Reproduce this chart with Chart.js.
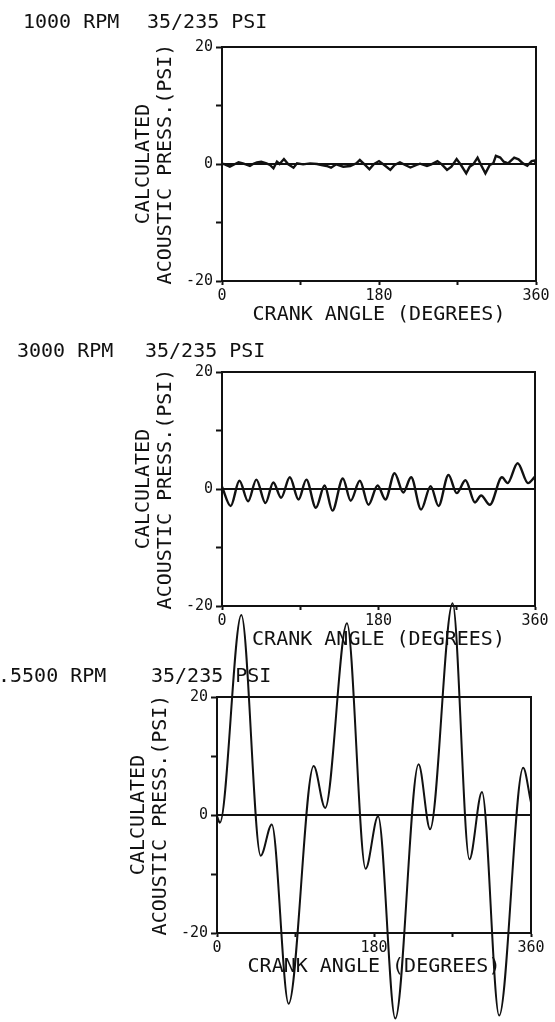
<!DOCTYPE html>
<html><head><meta charset="utf-8">
<script src="https://cdn.jsdelivr.net/npm/chart.js@4.4.1/dist/chart.umd.min.js"></script>
<style>
html,body{margin:0;padding:0;background:#fff;width:555px;height:1022px;overflow:hidden;}
canvas{position:absolute;left:0;top:0;}
</style></head><body>
<canvas id="c1" width="555" height="1022"></canvas>
<canvas id="c2" width="555" height="1022"></canvas>
<canvas id="c3" width="555" height="1022"></canvas>
<script>
// ---- data ----
const titleLeft = ["1000 RPM", "3000 RPM", ".5500 RPM"];
const titleRight = ["35/235 PSI", "35/235 PSI", "35/235 PSI"];
const yTitleLines = ["CALCULATED", "ACOUSTIC PRESS.(PSI)"];
const xTitleText = "CRANK ANGLE (DEGREES)";
const xTickValues = [0, 90, 180, 270, 360];
const xTickText = ["0", "", "180", "", "360"];
const yTickValues = [-20, -10, 0, 10, 20];
const yTickText = ["-20", "", "0", "", "20"];

// 1000 RPM
const angles1 = [0,2,5,9,15,19,24,28,32,36,40,45,51,55,59,63,66,71,76,82,86,93,101,109,114,120,125,131,139,147,154,158,164,169,174,180,186,193,198,204,210,216,223,227,235,240,247,252,258,263,269,274,280,284,288,293,297,302,307,311,314,319,323,328,335,340,345,350,355,358,360];
const press1 = [0,0,-0.2,-0.45,0,0.28,0.11,-0.1,-0.34,0.05,0.28,0.4,0.1,-0.17,-0.74,0.4,0,0.85,-0.06,-0.63,0.11,-0.06,0.11,0,-0.17,-0.34,-0.63,-0.06,-0.46,-0.34,0.11,0.68,-0.17,-0.9,-0.05,0.5,-0.17,-1.0,-0.17,0.28,-0.17,-0.6,-0.17,0.05,-0.34,-0.06,0.5,-0.06,-1.0,-0.46,0.85,-0.17,-1.6,-0.46,-0.06,1.08,-0.17,-1.6,-0.17,0.11,1.4,1.1,0.4,0.11,1.1,0.8,0.1,-0.3,0.5,0.6,0.1];

// 3000 RPM
const angles2 = [0,10,20,30,39.5,50,59,68,78,88,97,108,118,127,139,148,158.5,168.5,179,188,198.5,208.5,217.5,229,240,249,260.5,270,280,291,298,308,322,328.5,340,352,360];
const press2 = [0.4,-2.9,1.4,-2.1,1.6,-2.4,1.1,-1.5,2.0,-1.8,1.6,-3.2,0.6,-3.7,1.8,-2.0,1.4,-2.7,0.6,-1.8,2.7,-0.6,2.0,-3.5,0.5,-2.9,2.4,-0.7,1.5,-2.3,-1.1,-2.7,2.0,1.0,4.4,1.0,2.1];

// 5500 RPM
const angles3 = [0,3.3,27.9,50.1,62.8,82.1,110.8,124,149,170.4,184.7,204.4,231.1,244.3,270.1,289.4,303.8,323.5,351,360];
const press3 = [-0.2,-1.3,33.9,-6.9,-1.6,-32.0,8.3,1.2,32.5,-9.1,-0.2,-34.5,8.6,-2.4,35.9,-7.5,3.9,-34.0,8.0,2.1];

// ---- rendering ----
const FONT = '"DejaVu Sans Mono", "Liberation Mono", monospace';
Chart.defaults.font.family = FONT;
Chart.defaults.color = '#111';

const pts = (xs, ys) => xs.map((x, i) => ({x: x, y: ys[i]}));

const boxPlugin = {
  id: 'plotBox',
  beforeDatasetsDraw(chart) {
    const a = chart.chartArea, ctx = chart.ctx;
    ctx.save();
    ctx.strokeStyle = '#111';
    ctx.lineWidth = 2;
    ctx.strokeRect(a.left, a.top, a.right - a.left, a.bottom - a.top);
    ctx.restore();
  }
};
const titlePlugin = {
  id: 'plotTitle',
  afterDraw(chart, args, opts) {
    const ctx = chart.ctx;
    ctx.save();
    ctx.fillStyle = '#111';
    ctx.font = '20px ' + FONT;
    ctx.textBaseline = 'alphabetic';
    ctx.textAlign = 'left';
    ctx.fillText(opts.left, opts.xa, opts.y);
    ctx.fillText(opts.right, opts.xb, opts.y);
    ctx.restore();
  }
};

const YW = 100, XH = 55;
function makeChart(id, g, xs, ys, idx, lineOpts) {
  const pad = {left: g.L - YW, top: g.T, right: 555 - g.R, bottom: 1022 - g.B - XH};
  return new Chart(document.getElementById(id), {
    type: 'line',
    data: {
      datasets: [
        {data: pts([0, 360], [0, 0]), borderColor: '#111', borderWidth: 2, pointRadius: 0, tension: 0},
        Object.assign({data: pts(xs, ys), borderColor: '#111', borderWidth: 2.2, pointRadius: 0}, lineOpts)
      ]
    },
    options: {
      responsive: false,
      animation: false,
      events: [],
      layout: {padding: pad},
      plugins: {
        legend: {display: false},
        tooltip: {enabled: false},
        plotTitle: {left: titleLeft[idx], right: titleRight[idx], xa: g.ta, xb: g.tb, y: g.ty}
      },
      scales: {
        x: {
          type: 'linear', min: 0, max: 360,
          ticks: {stepSize: 90, autoSkip: false, maxRotation: 0, padding: 2,
            font: {size: 15, lineHeight: 1.2}, color: '#111',
            callback: v => { const i = xTickValues.indexOf(v); return i >= 0 ? xTickText[i] : ''; }},
          grid: {drawOnChartArea: false, drawTicks: true, tickLength: 4, tickWidth: 2, tickColor: '#111', color: '#111'},
          border: {display: true, color: '#111', width: 2},
          title: {display: true, text: xTitleText, color: '#111',
            font: {size: 20, lineHeight: 1.1}, padding: {top: 0, bottom: 10}},
          afterFit(s) { s.height = XH; s.paddingLeft = 0; s.paddingRight = 0; s.paddingTop = 0; s.paddingBottom = 0; }
        },
        y: {
          type: 'linear', min: -20, max: 20,
          ticks: {stepSize: 10, autoSkip: false, padding: 3,
            font: {size: 15, lineHeight: 1.2}, color: '#111',
            callback: v => { const i = yTickValues.indexOf(v); return i >= 0 ? yTickText[i] : ''; }},
          grid: {drawOnChartArea: false, drawTicks: true, tickLength: 6, tickWidth: 2, tickColor: '#111', color: '#111'},
          border: {display: true, color: '#111', width: 2},
          title: {display: true, text: yTitleLines, color: '#111',
            font: {size: 20, lineHeight: 1.1}, padding: {top: 11, bottom: 0}},
          afterFit(s) { s.width = YW; s.paddingLeft = 0; s.paddingRight = 0; s.paddingTop = 0; s.paddingBottom = 0; }
        }
      }
    },
    plugins: [boxPlugin, titlePlugin]
  });
}

makeChart('c1', {L: 222, T: 47, R: 536, B: 281, ta: 23, tb: 147, ty: 28}, angles1, press1, 0,
  {tension: 0, borderWidth: 2.4});
makeChart('c2', {L: 222, T: 372, R: 535, B: 606, ta: 17, tb: 145, ty: 357}, angles2, press2, 1,
  {cubicInterpolationMode: 'monotone', borderWidth: 2.4});
makeChart('c3', {L: 217, T: 697, R: 531, B: 933, ta: -2, tb: 151, ty: 682}, angles3, press3, 2,
  {cubicInterpolationMode: 'monotone', borderWidth: 2, clip: false});
</script>
</body></html>
